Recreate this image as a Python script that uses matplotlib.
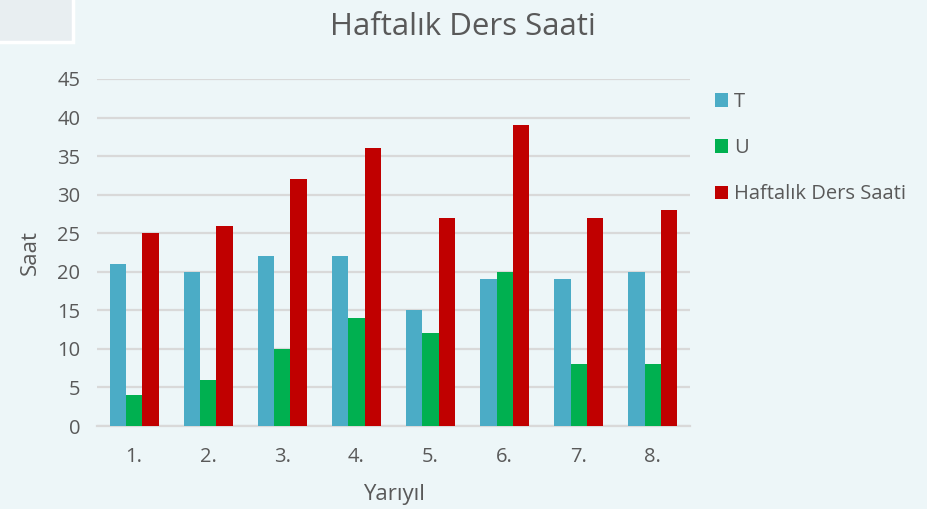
import matplotlib
matplotlib.use("Agg")
import matplotlib.pyplot as plt
import numpy as np
from matplotlib.patches import Rectangle

plt.rcParams['font.family'] = ['Open Sans', 'DejaVu Sans']

categories = ["1.", "2.", "3.", "4.", "5.", "6.", "7.", "8."]
T = [21, 20, 22, 22, 15, 19, 19, 20]
U = [4, 6, 10, 14, 12, 20, 8, 8]
haftalik = [25, 26, 32, 36, 27, 39, 27, 28]
series_names = ["T", "U", "Haftalık Ders Saati"]
colors = ["#4bacc6", "#00b050", "#c00000"]
yticks = [0, 5, 10, 15, 20, 25, 30, 35, 40, 45]

bg = "#edf6f8"
txt = "#595959"
W, H = 928, 509

fig = plt.figure(figsize=(W/100, H/100), dpi=100)
fig.patch.set_facecolor(bg)
fig.patches.append(Rectangle((-10/W, 1 - 42/H), 83/W, 0.1, transform=fig.transFigure,
                             facecolor="#e8eef1", edgecolor="white", linewidth=2.5, zorder=0))

ax = fig.add_axes([97/W, 1 - 426/H, (690-97)/W, (426-79)/H])
ax.set_facecolor("none")

x = np.arange(len(categories))
w = 0.22
for i, (vals, name, c) in enumerate(zip([T, U, haftalik], series_names, colors)):
    ax.bar(x + (i - 1) * w, vals, width=w, color=c, label=name, zorder=3)

ax.set_ylim(0, 45)
ax.set_xlim(-0.5, len(categories) - 0.5)
ax.set_yticks(yticks)
ax.set_xticks(x)
ax.set_xticklabels(categories)
ax.yaxis.grid(True, color="#d9d9d9", linewidth=1.6, zorder=0)
ax.tick_params(axis='both', length=0, labelsize=14.5, colors=txt)
ax.tick_params(axis='x', pad=15)
ax.tick_params(axis='y', pad=12)
for s in ["top", "right", "left"]:
    ax.spines[s].set_visible(False)
ax.spines["bottom"].set_color("#d9d9d9")
ax.spines["bottom"].set_linewidth(1.6)

fig.text(394/W, 1 - 500/H, "Yarıyıl", ha="center", va="baseline", fontsize=16, color=txt)
fig.text(30/W, 1 - 253/H, "Saat", ha="center", va="center", rotation=90, fontsize=16, color=txt)
fig.text(463/W, 1 - 35/H, "Haftalık Ders Saati", ha="center", va="baseline",
         fontsize=22.5, color=txt)

leg = ax.legend(loc="upper left", bbox_to_anchor=(715/W, 1 - 92/H),
                bbox_transform=fig.transFigure, frameon=False, fontsize=14.5,
                handlelength=0.64, handleheight=0.64, handletextpad=0.3,
                labelspacing=1.3, borderpad=0, borderaxespad=0)
for t in leg.get_texts():
    t.set_color(txt)

fig.savefig("out.png", dpi=100, facecolor=bg)
